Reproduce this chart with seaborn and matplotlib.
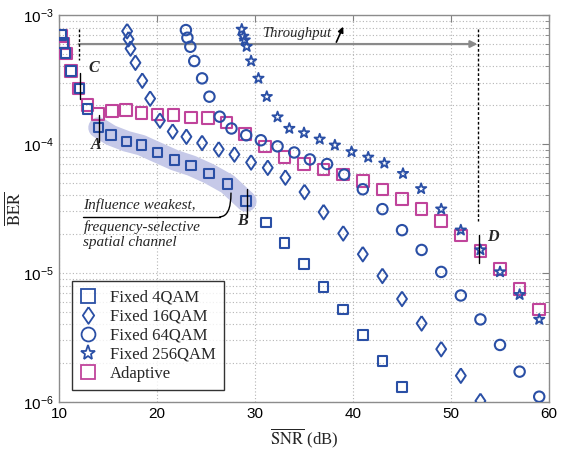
import numpy as np
import matplotlib
matplotlib.use("Agg")
import matplotlib.pyplot as plt
import seaborn as sns
from matplotlib.lines import Line2D
from matplotlib.ticker import LogLocator, NullFormatter, FixedLocator

# data (SNR in dB, mean BER)
snr_4qam = [10.25, 10.4, 10.65, 11.2, 12.1, 12.9, 14.05, 15.3, 16.9, 18.4, 20.05, 21.8,
            23.5, 25.3, 27.2, 29.1, 31.1, 33, 35, 37, 39, 41, 43, 45]
ber_4qam = [7.0e-4, 6.1e-4, 5.1e-4, 3.7e-4, 2.7e-4, 1.86e-4, 1.34e-4, 1.17e-4, 1.05e-4,
            9.8e-5, 8.6e-5, 7.5e-5, 6.8e-5, 5.9e-5, 4.9e-5, 3.6e-5, 2.47e-5, 1.70e-5,
            1.17e-5, 7.8e-6, 5.2e-6, 3.3e-6, 2.09e-6, 1.31e-6]

snr_16qam = [16.95, 17.1, 17.3, 17.8, 18.5, 19.3, 20.3, 21.6, 23.0, 24.6, 26.3, 27.9, 29.6,
             31.3, 33.1, 35.05, 37, 39, 41, 43, 45, 47, 49, 51, 53]
ber_16qam = [7.5e-4, 6.5e-4, 5.5e-4, 4.27e-4, 3.1e-4, 2.25e-4, 1.52e-4, 1.25e-4, 1.14e-4,
             1.02e-4, 9.1e-5, 8.3e-5, 7.2e-5, 6.55e-5, 5.5e-5, 4.25e-5, 2.97e-5, 2.03e-5,
             1.40e-5, 9.5e-6, 6.3e-6, 4.07e-6, 2.57e-6, 1.6e-6, 1.02e-6]

snr_64qam = [22.95, 23.1, 23.4, 23.8, 24.6, 25.35, 26.4, 27.6, 29.1, 30.6, 32.3, 34.0, 35.6,
             37.35, 39.1, 41, 43, 45, 47, 49, 51, 53, 55, 57, 59]
ber_64qam = [7.65e-4, 6.67e-4, 5.68e-4, 4.4e-4, 3.23e-4, 2.33e-4, 1.63e-4, 1.32e-4, 1.17e-4,
             1.07e-4, 9.6e-5, 8.6e-5, 7.6e-5, 7.0e-5, 5.8e-5, 4.46e-5, 3.13e-5, 2.15e-5,
             1.51e-5, 1.02e-5, 6.7e-6, 4.37e-6, 2.77e-6, 1.72e-6, 1.1e-6]

snr_256qam = [28.65, 28.8, 28.95, 29.15, 29.6, 30.35, 31.2, 32.3, 33.5, 35.0, 36.6, 38.15,
              39.85, 41.55, 43.2, 45.1, 46.95, 49, 51, 53, 55, 57, 59]
ber_256qam = [7.75e-4, 6.84e-4, 6.4e-4, 5.7e-4, 4.4e-4, 3.23e-4, 2.33e-4, 1.62e-4, 1.32e-4,
              1.22e-4, 1.09e-4, 9.8e-5, 8.7e-5, 7.9e-5, 7.1e-5, 5.9e-5, 4.5e-5, 3.13e-5,
              2.15e-5, 1.51e-5, 1.02e-5, 6.8e-6, 4.37e-6]

snr_adapt = [10.2, 10.45, 10.7, 11.2, 12.0, 12.9, 14.0, 15.4, 16.85, 18.4, 20.05, 21.7, 23.5,
             25.2, 27.1, 29.0, 31.0, 33.0, 35.0, 37, 39, 41, 43, 45, 47, 49, 51, 53, 55, 57, 59]
ber_adapt = [6.9e-4, 6.0e-4, 5.05e-4, 3.68e-4, 2.69e-4, 2.0e-4, 1.71e-4, 1.81e-4, 1.83e-4,
             1.75e-4, 1.70e-4, 1.68e-4, 1.61e-4, 1.59e-4, 1.47e-4, 1.20e-4, 9.6e-5, 7.97e-5,
             7.0e-5, 6.37e-5, 5.82e-5, 5.16e-5, 4.45e-5, 3.75e-5, 3.14e-5, 2.53e-5, 1.96e-5,
             1.49e-5, 1.08e-5, 7.5e-6, 5.2e-6]

labels = ["Fixed 4QAM", "Fixed 16QAM", "Fixed 64QAM", "Fixed 256QAM", "Adaptive"]

blue = "#2a4fa5"
magenta = "#c0449b"
# diamond a bit wider than matplotlib's thin diamond
diamond = [(0, 1), (0.68, 0), (0, -1), (-0.68, 0), (0, 1)]

sns.set_style("white")
plt.rcParams["font.family"] = ["Liberation Sans", "DejaVu Sans"]
plt.rcParams["mathtext.fontset"] = "stix"

fig = plt.figure(figsize=(5.7, 4.51), dpi=100)
ax = fig.add_axes([0.1035, 0.1086, 0.8597, 0.858])

# shaded band along the 4QAM curve (points A..B)
band_x = [x for x in snr_4qam if 14 <= x <= 29.5]
band_y = [b for x, b in zip(snr_4qam, ber_4qam) if 14 <= x <= 29.5]
ax.plot(band_x, band_y, color="#c6c9e8", lw=15, solid_capstyle="round", zorder=1)

# markers
sns.scatterplot(x=snr_adapt, y=ber_adapt, marker="s", s=70, facecolors="none",
                edgecolor=magenta, linewidth=1.5, ax=ax, zorder=3)
sns.scatterplot(x=snr_4qam, y=ber_4qam, marker="s", s=48, facecolors="none",
                edgecolor=blue, linewidth=1.5, ax=ax, zorder=4)
sns.scatterplot(x=snr_16qam, y=ber_16qam, marker=diamond, s=110, facecolors="none",
                edgecolor=blue, linewidth=1.4, ax=ax, zorder=4)
sns.scatterplot(x=snr_64qam, y=ber_64qam, marker="o", s=56, facecolors="none",
                edgecolor=blue, linewidth=1.5, ax=ax, zorder=4)
sns.scatterplot(x=snr_256qam, y=ber_256qam, marker="*", s=62, facecolors="none",
                edgecolor=blue, linewidth=1.3, ax=ax, zorder=4)

ax.set_yscale("log")
ax.set_xlim(10, 60)
ax.set_ylim(1e-6, 1e-3)
ax.xaxis.set_major_locator(FixedLocator([10, 20, 30, 40, 50, 60]))
ax.yaxis.set_major_locator(LogLocator(base=10, numticks=10))
ax.yaxis.set_minor_locator(LogLocator(base=10, subs=np.arange(2, 10), numticks=20))
ax.yaxis.set_minor_formatter(NullFormatter())

ax.grid(True, which="major", linestyle=(0, (1, 2)), color="#b5b5b5", lw=0.8)
ax.grid(True, which="minor", axis="y", linestyle=(0, (1, 2)), color="#b5b5b5", lw=0.8)
ax.tick_params(which="both", direction="in", top=True, right=True, labelsize=11,
               colors="#808080", labelcolor="black")
ax.tick_params(which="major", length=5)
ax.tick_params(which="minor", length=3)
for sp in ax.spines.values():
    sp.set_color("#8c8c8c")
    sp.set_linewidth(1.0)

ax.set_xlabel(r"$\overline{\mathrm{SNR}}$ (dB)", family="Liberation Serif", fontsize=12,
              math_fontfamily="stix", labelpad=4)
ax.set_ylabel(r"$\overline{\mathrm{BER}}$", family="Liberation Serif", fontsize=12,
              math_fontfamily="stix")
ax.yaxis.set_label_coords(-0.072, 0.5)

# throughput arrow and dashed markers
ax.annotate("", xy=(52.7, 5.96e-4), xytext=(12.0, 5.96e-4),
            arrowprops=dict(arrowstyle="-|>", color="#8a8a8a", lw=1.6, mutation_scale=10,
                            shrinkA=0, shrinkB=0), zorder=2)
ax.plot([12.0, 12.0], [10 ** -3.11, 10 ** -3.35], color="black", lw=1, ls=(0, (2, 1.5)))
ax.plot([52.8, 52.8], [10 ** -3.11, 10 ** -4.60], color="black", lw=1, ls=(0, (2, 1.5)))
ax.text(30.7, 10 ** -3.145, "Throughput", family="Liberation Serif", style="italic",
        fontsize=10.5, va="center", ha="left")
ax.annotate("", xy=(39.0, 10 ** -3.09), xytext=(38.3, 10 ** -3.21),
            arrowprops=dict(arrowstyle="-|>", color="black", lw=1.2, mutation_scale=8,
                            shrinkA=0, shrinkB=0))

# point labels with small tick lines
for lx, ly, tx, y0, y1, name in [(13.0, -3.41, 12.1, -3.45, -3.65, "C"),
                                 (13.2, -4.01, 14.05, -3.775, -3.985, "A"),
                                 (28.2, -4.60, 29.15, -4.35, -4.565, "B"),
                                 (53.7, -4.72, 52.9, -4.705, -4.92, "D")]:
    ax.text(lx, 10 ** ly, name, family="Liberation Serif", style="italic",
            weight="bold", fontsize=11.5, va="center", ha="left")
    ax.plot([tx, tx], [10 ** y0, 10 ** y1], color="black", lw=1, zorder=5)

ax.text(12.5, 10 ** -4.47, "Influence weakest,", family="Liberation Serif",
        style="italic", fontsize=11, va="center", ha="left")
ax.text(12.5, 10 ** -4.645, "frequency-selective", family="Liberation Serif",
        style="italic", fontsize=11, va="center", ha="left")
ax.text(12.5, 10 ** -4.76, "spatial channel", family="Liberation Serif",
        style="italic", fontsize=11, va="center", ha="left")
ax.plot([12.5, 26.4], [10 ** -4.564, 10 ** -4.564], color="black", lw=1)
ax.annotate("", xy=(27.55, 10 ** -4.38), xytext=(26.4, 10 ** -4.564),
            arrowprops=dict(arrowstyle="-", color="black", lw=1,
                            connectionstyle="angle3,angleA=0,angleB=90",
                            shrinkA=0, shrinkB=0))

# legend
markers = ["s", diamond, "o", "*", "s"]
sizes = [10, 12, 10, 11, 10]
colors = [blue, blue, blue, blue, magenta]
handles = [Line2D([], [], ls="", marker=m, mfc="none", mec=c, mew=1.3, ms=sz)
           for m, sz, c in zip(markers, sizes, colors)]
leg = ax.legend(handles, labels, loc="lower left", bbox_to_anchor=(0.026, 0.031),
                borderaxespad=0, frameon=True, fancybox=False, handlelength=1.0,
                handletextpad=0.8, labelspacing=0.18, borderpad=0.5,
                prop={"family": "Liberation Serif", "size": 12})
leg.get_frame().set_edgecolor("black")
leg.get_frame().set_linewidth(1.0)

fig.savefig("out.png", dpi=100)
